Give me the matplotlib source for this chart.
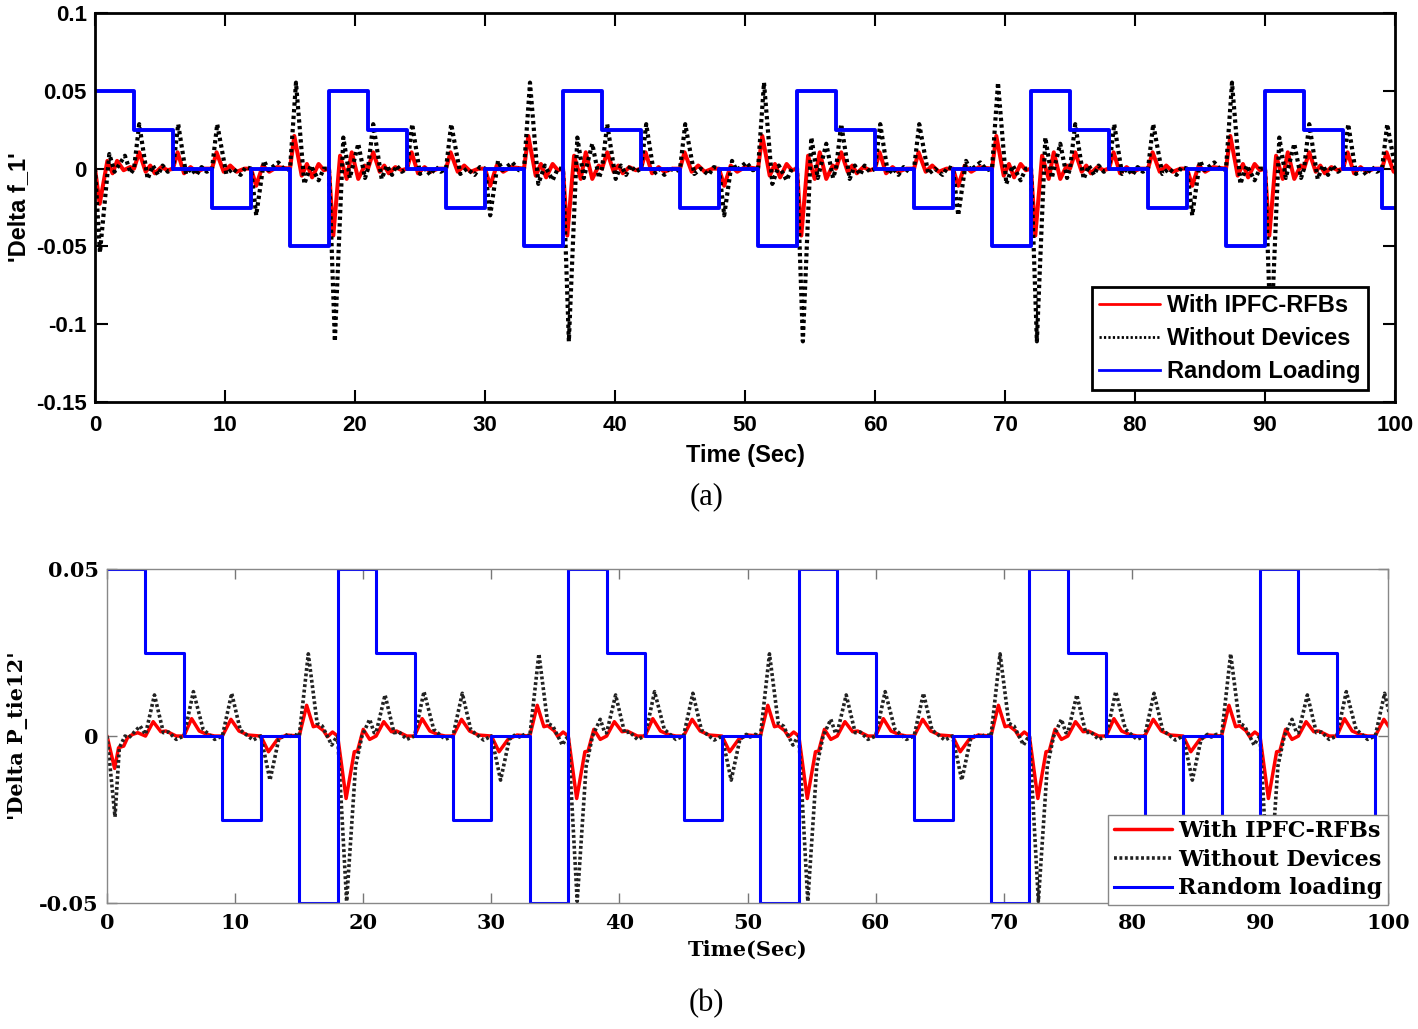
import matplotlib
matplotlib.use('Agg')
import matplotlib.pyplot as plt

# Random load steps (time in s, p.u.), each value holds until the next time
LOAD_T = [0, 3, 6, 9, 12, 15, 18, 21, 24, 27, 30, 33, 36, 39, 42, 45, 48, 51,
          54, 57, 60, 63, 66, 69, 72, 75, 78, 81, 84, 87, 90, 93, 96, 99, 100]
LOAD_V = [0.05, 0.025, 0, -0.025, 0, -0.05, 0.05, 0.025, 0, -0.025, 0, -0.05,
          0.05, 0.025, 0, -0.025, 0, -0.05, 0.05, 0.025, 0, -0.025, 0, -0.05,
          0.05, 0.025, 0, -0.025, 0, -0.05, 0.05, 0.025, 0, -0.025, -0.025]

CYCLE = 18
N_CYCLES = 6

# (a) Delta f_1, one cycle (time from cycle start)
F1_RED_T = [0, 0.33, 0.85, 1.36, 1.75, 2.25, 2.75, 3.0, 3.4, 3.9, 4.25, 4.6, 5.1, 5.6, 6.0,
            6.35, 6.85, 7.35, 7.8, 8.4, 9.0, 9.35, 9.9, 10.4, 10.9, 11.5, 12.0, 12.4, 12.9,
            13.4, 14.0, 15.0, 15.33, 15.9, 16.3, 16.7, 17.2, 17.6, 18.0]
F1_RED_V = [0, -0.043, 0.0083, -0.0066, 0.0105, -0.0066, 0.002, 0.0, 0.0105, -0.002, 0.002,
            -0.003, 0.001, -0.001, 0.0, 0.0105, -0.003, 0.001, -0.002, 0.0, 0.0, 0.0105,
            -0.002, 0.002, -0.002, 0.0, 0.0, -0.011, 0.002, -0.002, 0.001, 0.0, 0.021,
            -0.0045, 0.003, -0.0056, 0.003, -0.001, 0.0]
F1_BLACK_T = [0, 0.45, 1.1, 1.6, 2.25, 2.77, 3.0, 3.4, 4.05, 4.45, 4.85, 5.2, 5.6, 6.0, 6.4,
              7.0, 7.4, 7.8, 8.2, 8.6, 9.0, 9.4, 10.1, 10.6, 11.2, 11.6, 12.0, 12.4, 13.0,
              13.35, 14.1, 14.6, 15.0, 15.46, 16.1, 16.6, 17.2, 17.6, 18.0]
F1_BLACK_V = [0, -0.111, 0.020, -0.006, 0.016, -0.006, 0.0, 0.0286, -0.0066, 0.002, -0.004,
              0.002, -0.002, 0.0, 0.0286, -0.0034, 0.0, -0.004, 0.001, -0.002, 0.0, 0.0286,
              -0.0034, 0.0, -0.004, 0.001, 0.0, -0.030, 0.005, -0.001, 0.004, -0.001, 0.0,
              0.0553, -0.0098, 0.002, -0.0075, 0.0, 0.0]
# first 3 s (load step from 0 instead of from -0.05)
F1_RED_START_T = [0, 0.36, 0.95, 1.35, 1.7, 2.2, 2.7, 3.0]
F1_RED_START_V = [0, -0.0226, 0.005, -0.003, 0.005, -0.001, 0.001, 0.0]
F1_BLACK_START_T = [0, 0.38, 1.1, 1.5, 2.3, 2.75, 3.0]
F1_BLACK_START_V = [0, -0.054, 0.0094, -0.002, 0.0083, -0.003, 0.0]

# (b) Delta P_tie12, one cycle
PT_RED_T = [0, 0.66, 1.3, 1.55, 2.0, 2.5, 3.0, 3.6, 4.2, 4.6, 5.4, 6.0, 6.6, 7.2, 7.8, 8.4,
            9.0, 9.67, 10.3, 11.0, 12.0, 12.6, 13.3, 14.0, 15.0, 15.58, 16.1, 16.4, 16.9,
            17.2, 17.6, 18.0]
PT_RED_V = [0, -0.0187, -0.0047, -0.0045, 0.002, -0.001, 0.0, 0.0043, 0.0013, 0.0015, 0.0,
            0.0, 0.0052, 0.0015, 0.0005, 0.0, 0.0, 0.005, 0.0015, 0.0003, 0.0, -0.0047,
            -0.001, 0.0003, 0.0, 0.0092, 0.0028, 0.0031, 0.0016, -0.0002, 0.0012, 0.0]
PT_BLACK_T = [0, 0.7, 1.4, 1.9, 2.5, 2.85, 3.0, 3.7, 4.4, 4.8, 5.4, 6.0, 6.74, 7.5, 7.8, 8.4,
              9.0, 9.73, 10.4, 11.4, 12.0, 12.72, 13.4, 13.9, 14.2, 14.6, 15.0, 15.71, 16.4,
              16.8, 17.54, 17.8, 18.0]
PT_BLACK_V = [0, -0.0495, -0.009, 0.0, 0.005, 0.001, 0.001, 0.0123, 0.001, 0.0012, -0.001,
              0.0, 0.0133, 0.002, 0.001, -0.001, 0.0, 0.0128, 0.0018, -0.0012, 0.0, -0.0132,
              -0.001, 0.0005, -0.0003, 0.0005, 0.0, 0.0246, 0.0038, 0.003, -0.0027, -0.001,
              0.0]
PT_RED_START_T = [0, 0.59, 0.9, 1.3, 1.6, 2.0, 2.4, 3.0]
PT_RED_START_V = [0, -0.0097, -0.0035, -0.003, -0.0005, 0.0005, 0.001, 0.0]
PT_BLACK_START_T = [0, 0.62, 0.96, 1.4, 1.7, 2.2, 2.58, 3.0]
PT_BLACK_START_V = [0, -0.0242, -0.0035, 0.0, -0.0005, 0.0015, 0.003, 0.0005]

X_TICKS = list(range(0, 101, 10))
F1_Y_TICKS = [-0.15, -0.1, -0.05, 0, 0.05, 0.1]
F1_Y_LABELS = ['-0.15', '-0.1', '-0.05', '0', '0.05', '0.1']
PT_Y_TICKS = [-0.05, 0, 0.05]
PT_Y_LABELS = ['-0.05', '0', '0.05']

SANS = 'Liberation Sans'
SERIF = 'DejaVu Serif'
ROUND = dict(solid_joinstyle='round', solid_capstyle='round',
             dash_joinstyle='round', dash_capstyle='butt')


def tile_cycles(tau, vals, start_tau, start_vals):
    """Repeat the read cycle; the first cycle uses its own first 3 s."""
    t_all, v_all = [], []
    for k in range(N_CYCLES):
        if k == 0:
            seg_t = list(start_tau) + [t for t in tau if t > 3]
            seg_v = list(start_vals) + [v for t, v in zip(tau, vals) if t > 3]
        else:
            seg_t, seg_v = tau, vals
        t_all += [CYCLE * k + t for t in seg_t]
        v_all += list(seg_v)
    return t_all, v_all


def draw_top(fig):
    ax = fig.add_axes([0.067, 0.6093, 0.9168, 0.378])
    t, v = tile_cycles(F1_RED_T, F1_RED_V, F1_RED_START_T, F1_RED_START_V)
    ax.plot(t, v, color='#ff0000', lw=2.9, label='With IPFC-RFBs', **ROUND)
    t, v = tile_cycles(F1_BLACK_T, F1_BLACK_V, F1_BLACK_START_T, F1_BLACK_START_V)
    ax.plot(t, v, color='black', lw=3.0, linestyle=(0, (0.8, 0.8)),
            label='Without Devices', **ROUND)
    ax.plot(LOAD_T, LOAD_V, color='#0000ff', lw=2.8, drawstyle='steps-post',
            label='Random Loading')

    ax.set_xlim(0, 100)
    ax.set_ylim(-0.15, 0.1)
    ax.set_xticks(X_TICKS)
    ax.set_yticks(F1_Y_TICKS)
    ax.set_yticklabels(F1_Y_LABELS)
    ax.tick_params(direction='in', length=9, width=1.5, top=True, right=True,
                   labelsize=16, pad=6)
    ax.tick_params(axis='x', pad=9)
    for lab in ax.get_xticklabels() + ax.get_yticklabels():
        lab.set_fontfamily(SANS)
        lab.set_fontweight('bold')
    for sp in ax.spines.values():
        sp.set_linewidth(2)
        sp.set_color('black')
    ax.set_xlabel('Time (Sec)', fontsize=17, fontweight='bold', family=SANS, labelpad=6)
    ax.set_ylabel("'Delta f_1'", fontsize=17, fontweight='bold', family=SANS, labelpad=4)

    leg = ax.legend(loc='lower right', bbox_to_anchor=(0.979, 0.031), borderaxespad=0,
                    fancybox=False, framealpha=1, handlelength=2.6, handletextpad=0.3,
                    labelspacing=0.42, borderpad=0.3,
                    prop={'family': SANS, 'weight': 'bold', 'size': 17})
    leg.get_frame().set_edgecolor('black')
    leg.get_frame().set_linewidth(2)
    for line in leg.get_lines():
        line.set_linewidth(2)

    fig.text(0.498, 0.517, '(a)', ha='center', va='center', fontsize=22,
             family='Liberation Serif')


def draw_bottom(fig):
    ax = fig.add_axes([0.0755, 0.1224, 0.9034, 0.3246])
    t, v = tile_cycles(PT_RED_T, PT_RED_V, PT_RED_START_T, PT_RED_START_V)
    ax.plot(t, v, color='#ff0000', lw=2.5, label='With IPFC-RFBs', **ROUND)
    t, v = tile_cycles(PT_BLACK_T, PT_BLACK_V, PT_BLACK_START_T, PT_BLACK_START_V)
    ax.plot(t, v, color='#222222', lw=2.6, linestyle=(0, (0.8, 0.7)),
            label='Without Devices', **ROUND)
    ax.plot(LOAD_T, LOAD_V, color='#0000ff', lw=2.2, drawstyle='steps-post',
            label='Random loading')

    ax.set_xlim(0, 100)
    ax.set_ylim(-0.05, 0.05)
    ax.set_xticks(X_TICKS)
    ax.set_yticks(PT_Y_TICKS)
    ax.set_yticklabels(PT_Y_LABELS)
    ax.tick_params(direction='in', length=7, width=1, color='#777777', top=True,
                   right=True, labelsize=15, pad=6)
    ax.tick_params(axis='x', pad=7)
    for lab in ax.get_xticklabels() + ax.get_yticklabels():
        lab.set_fontfamily(SERIF)
        lab.set_fontweight('bold')
    for sp in ax.spines.values():
        sp.set_linewidth(1)
        sp.set_color('#888888')
    ax.set_xlabel('Time(Sec)', fontsize=15, fontweight='bold', family=SERIF, labelpad=5)
    ax.set_ylabel("'Delta P_tie12'", fontsize=15, fontweight='bold', family=SERIF,
                  labelpad=8)

    leg = ax.legend(loc='lower right', bbox_to_anchor=(1.0, -0.006), borderaxespad=0,
                    fancybox=False, framealpha=1, handlelength=2.6, handletextpad=0.3,
                    labelspacing=0.3, borderpad=0.25,
                    prop={'family': SERIF, 'weight': 'bold', 'size': 16})
    leg.get_frame().set_edgecolor('#888888')
    leg.get_frame().set_linewidth(1)

    fig.text(0.498, 0.025, '(b)', ha='center', va='center', fontsize=22,
             family='Liberation Serif')


def main():
    fig = plt.figure(figsize=(14.18, 10.29), dpi=100)
    draw_top(fig)
    draw_bottom(fig)
    fig.savefig('out.png', dpi=100)
    plt.close(fig)


if __name__ == '__main__':
    main()
